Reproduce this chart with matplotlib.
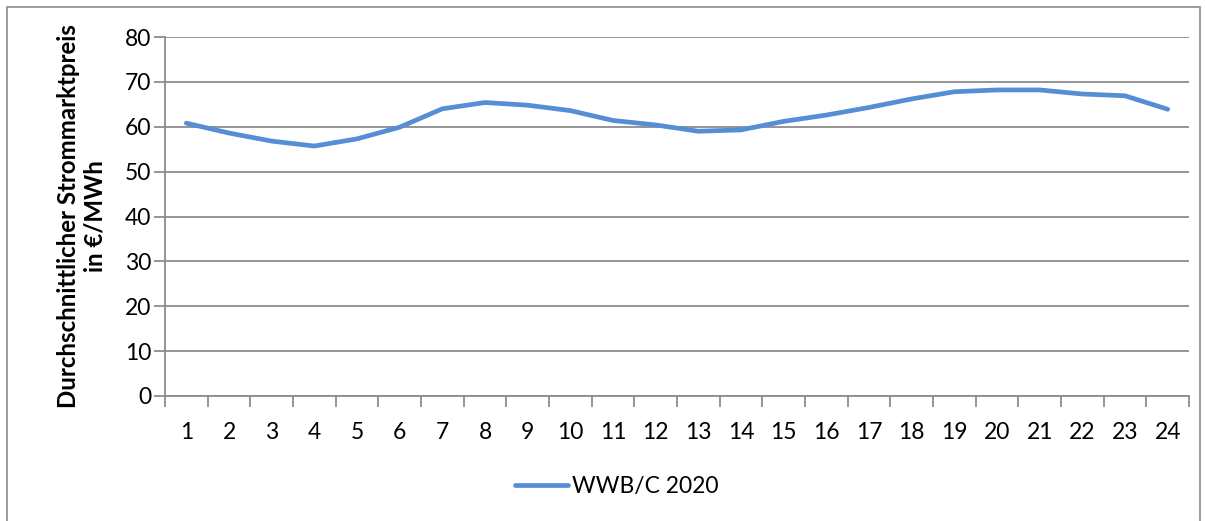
import numpy as np
import matplotlib.pyplot as plt
from matplotlib.patches import Rectangle

hours = [x for x in range(1, 25)]
price = [60.8, 58.6, 56.8, 55.7, 57.3, 59.9, 64.0, 65.4, 64.8, 63.6, 61.4, 60.4,
         59.0, 59.3, 61.2, 62.6, 64.3, 66.2, 67.8, 68.2, 68.2, 67.3, 66.9, 63.9]
series_name = "WWB/C 2020"
y_label = "Durchschnittlicher Strommarktpreis\nin €/MWh"

plt.rcParams['font.family'] = ['Lato', 'DejaVu Sans']

fig = plt.figure(figsize=(12.05, 5.21), dpi=100)
ax = fig.add_axes([165/1205, 1 - 396/521, (1189 - 165)/1205, (396 - 37)/521])

# outer chart border
fig.patches.append(Rectangle((7/1205, -0.05), (1200 - 7)/1205, 1.05 - 7/521,
                             transform=fig.transFigure, fill=False,
                             edgecolor='#8c8c8c', linewidth=1.2))

grid_col = '#8c8c8c'
ax.plot(hours, price, color='#558ed5', linewidth=3.4,
        solid_capstyle='round', solid_joinstyle='round', label=series_name)

ax.set_xlim(0.5, 24.5)
ax.set_ylim(0, 80)
ax.set_yticks(np.arange(0, 81, 10))
ax.yaxis.grid(True, color=grid_col, linewidth=1.3)
ax.set_axisbelow(True)

ax.set_xticks(hours)
ax.set_xticks(np.arange(0.5, 24.6, 1), minor=True)
ax.tick_params(axis='x', which='major', length=0, labelsize=16.5, pad=19)
ax.tick_params(axis='x', which='minor', length=8, color=grid_col, width=1.3, direction='out')
ax.tick_params(axis='y', length=8, color=grid_col, width=1.3, labelsize=16.5, pad=2)

for s in ['top', 'right']:
    ax.spines[s].set_visible(False)
for s in ['left', 'bottom']:
    ax.spines[s].set_color(grid_col)
    ax.spines[s].set_linewidth(1.3)

ax.set_ylabel(y_label, fontsize=17.3, fontweight='bold', linespacing=1.2, labelpad=13)

fig.legend(loc='center', bbox_to_anchor=(617/1205, 1 - 487/521), frameon=False,
           fontsize=16.5, handlelength=2.3, handletextpad=0.2)

plt.savefig("out.png", dpi=100)
